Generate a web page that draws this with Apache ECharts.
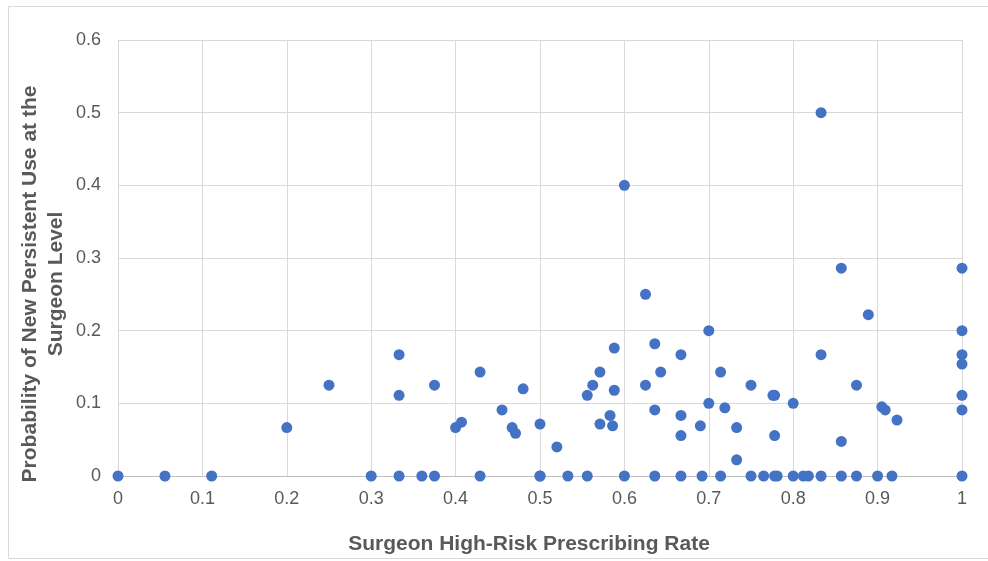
<!DOCTYPE html>
<html>
<head>
<meta charset="utf-8">
<script src="https://cdn.jsdelivr.net/npm/echarts@6/dist/echarts.min.js"></script>
<style>html,body{margin:0;padding:0;background:#fff;}#c{width:988px;height:561px;}</style>
</head>
<body>
<div id="c"></div>
<script>
// Surgeon high-risk prescribing rate (x) and probability of new persistent use (y)
const rateX = [
  0, 0.0556, 0.111, 0.3, 0.333, 0.36, 0.375, 0.429, 0.5, 0.5, 0.533, 0.556, 0.6, 0.636, 0.667,
  0.692, 0.714, 0.75, 0.765, 0.778, 0.781, 0.8, 0.812, 0.818, 0.833, 0.857, 0.875, 0.9, 0.917, 1,
  0.2, 0.25, 0.333, 0.333, 0.375, 0.4, 0.407, 0.429, 0.455, 0.467, 0.471, 0.48, 0.5, 0.52,
  0.556, 0.5625, 0.571, 0.571, 0.583, 0.586, 0.588, 0.588, 0.6, 0.625, 0.625, 0.636, 0.636,
  0.643, 0.667, 0.667, 0.667, 0.69, 0.7, 0.7, 0.714, 0.719, 0.733, 0.733, 0.75, 0.776, 0.778,
  0.778, 0.8, 0.833, 0.833, 0.857, 0.857, 0.875, 0.889, 0.905, 0.909, 0.923, 1, 1, 1, 1, 1, 1
];
const probY = [
  0, 0, 0, 0, 0, 0, 0, 0, 0, 0, 0, 0, 0, 0, 0,
  0, 0, 0, 0, 0, 0, 0, 0, 0, 0, 0, 0, 0, 0, 0,
  0.0667, 0.125, 0.167, 0.111, 0.125, 0.0667, 0.0741, 0.143, 0.0909, 0.0667, 0.0588, 0.12, 0.0714, 0.04,
  0.111, 0.125, 0.143, 0.0714, 0.0833, 0.069, 0.176, 0.118, 0.4, 0.25, 0.125, 0.182, 0.0909,
  0.143, 0.167, 0.0833, 0.0556, 0.069, 0.2, 0.1, 0.143, 0.0938, 0.0667, 0.0222, 0.125, 0.111, 0.111,
  0.0556, 0.1, 0.5, 0.167, 0.286, 0.0476, 0.125, 0.222, 0.0952, 0.0909, 0.0769, 0.286, 0.2, 0.167, 0.154, 0.111, 0.0909
];
const xTitle = 'Surgeon High-Risk Prescribing Rate';
const yTitle = 'Probability of New Persistent Use at the\nSurgeon Level';

const points = rateX.map((x, i) => [x, probY[i]]);
const chart = echarts.init(document.getElementById('c'), null, {renderer: 'canvas'});
const labelFont = {color: '#595959', fontSize: 18, fontFamily: 'Liberation Sans, Arial, sans-serif'};
chart.setOption({
  animation: false,
  backgroundColor: '#fff',
  grid: {left: 118, right: 26, top: 40, bottom: 85, containLabel: false},
  xAxis: {
    type: 'value', min: 0, max: 1, interval: 0.1,
    axisLine: {show: true, lineStyle: {color: '#bfbfbf', width: 1}},
    axisTick: {show: false},
    axisLabel: Object.assign({margin: 14}, labelFont),
    splitLine: {show: true, lineStyle: {color: '#d9d9d9', width: 1}}
  },
  yAxis: {
    type: 'value', min: 0, max: 0.6, interval: 0.1,
    axisLine: {show: false},
    axisTick: {show: false},
    axisLabel: Object.assign({margin: 17}, labelFont),
    splitLine: {show: true, lineStyle: {color: '#d9d9d9', width: 1}}
  },
  series: [{
    type: 'scatter',
    data: points,
    symbol: 'circle',
    symbolSize: 11,
    itemStyle: {color: '#4472C4', opacity: 1}
  }],
  graphic: [
    {type: 'rect', shape: {x: 8.5, y: 6.5, width: 990, height: 552}, style: {fill: 'none', stroke: '#d9d9d9', lineWidth: 1}, z: -1},
    {type: 'text', x: 529, y: 544, style: {text: xTitle, fill: '#595959', font: 'bold 21px Liberation Sans, Arial, sans-serif', align: 'center', verticalAlign: 'middle'}},
    {type: 'text', x: 43, y: 284, rotation: Math.PI / 2, style: {text: yTitle, fill: '#595959', font: 'bold 21px Liberation Sans, Arial, sans-serif', align: 'center', verticalAlign: 'middle', lineHeight: 26}}
  ]
});
</script>
</body>
</html>
